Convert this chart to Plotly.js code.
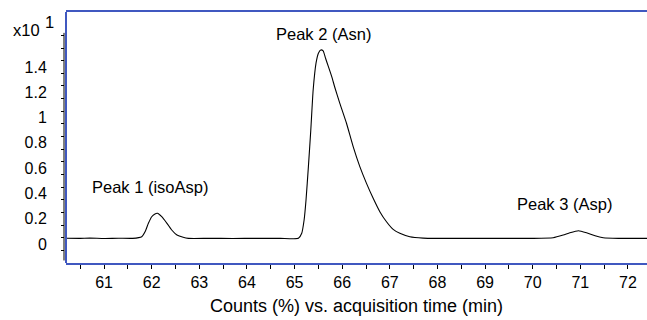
<!DOCTYPE html>
<html>
<head>
<meta charset="utf-8">
<script src="https://cdn.plot.ly/plotly-3.0.1.min.js"></script>
<style>html,body{margin:0;padding:0;background:#fff}#chart{width:647px;height:320px}</style>
</head>
<body>
<div id="chart"></div>
<script>
// Acquisition time (min)
const timeMin = [60.20, 60.50, 60.70, 61.00, 61.30, 61.60, 61.79, 61.86, 61.93, 62.00, 62.06, 62.12, 62.21, 62.32, 62.42, 62.53, 62.66, 62.77, 63.20, 63.70, 64.20, 64.70, 65.08, 65.15, 65.20, 65.24, 65.29, 65.34, 65.39, 65.45, 65.50, 65.55, 65.60, 65.65, 65.71, 65.78, 65.85, 65.95, 66.09, 66.23, 66.37, 66.51, 66.65, 66.79, 66.93, 67.07, 67.21, 67.42, 67.70, 67.98, 68.50, 69.00, 69.50, 70.00, 70.43, 70.64, 70.78, 70.96, 71.13, 71.31, 71.48, 71.80, 72.10, 72.40];
// Counts (%) x10^1
const counts = [0.046, 0.045, 0.047, 0.044, 0.046, 0.045, 0.058, 0.097, 0.164, 0.216, 0.236, 0.243, 0.216, 0.164, 0.111, 0.071, 0.053, 0.045, 0.045, 0.044, 0.045, 0.045, 0.045, 0.085, 0.190, 0.348, 0.612, 0.900, 1.218, 1.430, 1.509, 1.535, 1.527, 1.469, 1.403, 1.324, 1.232, 1.113, 0.955, 0.770, 0.612, 0.480, 0.362, 0.256, 0.176, 0.116, 0.085, 0.058, 0.047, 0.045, 0.045, 0.045, 0.045, 0.045, 0.050, 0.071, 0.089, 0.105, 0.089, 0.065, 0.050, 0.045, 0.045, 0.045];
// Tick labels
const yTickVals = [0, 0.2, 0.4, 0.6, 0.8, 1, 1.2, 1.4];
const yTickText = ["0", "0.2", "0.4", "0.6", "0.8", "1", "1.2", "1.4"];
const yMinorTicks = [-0.05, 0.05, 0.15, 0.25, 0.35, 0.45, 0.55, 0.65, 0.75, 0.85, 0.95, 1.05, 1.15, 1.25, 1.35, 1.45, 1.55, 1.65];
// Peak labels
const peakNames = ["Peak 1 (isoAsp)", "Peak 2 (Asn)", "Peak 3 (Asp)"];
const peakLabelX = [61.97, 65.60, 70.66];
const peakLabelY = [0.451, 1.661, 0.316];

const fam = "Liberation Sans, Arial, sans-serif";
const font = {family: fam, size: 16, color: "#000"};
const annFont = {family: fam, size: 16.5, color: "#000"};
const titleFont = {family: fam, size: 18, color: "#000"};
const blue = "#4058c0";
const W = 647, ml = 64;
const pw = W - ml;
const d0 = 2 / pw;

const traces = [
  {x: timeMin, y: counts, type: "scatter", mode: "lines", line: {color: "#000", width: 1.1, shape: "spline", smoothing: 0.5}, hoverinfo: "skip", xaxis: "x", yaxis: "y"},
  {x: [timeMin[0]], y: [counts[0]], type: "scatter", mode: "lines", line: {color: "rgba(0,0,0,0)"}, hoverinfo: "skip", xaxis: "x", yaxis: "y2", showlegend: false}
];

const annotations = peakNames.map((t, i) => ({
  text: t, x: peakLabelX[i], y: peakLabelY[i], xref: "x", yref: "y",
  showarrow: false, xanchor: "center", yanchor: "middle", font: annFont
}));
annotations.push({text: "x10", xref: "paper", yref: "paper", x: 0, y: 1, xanchor: "left", yanchor: "middle", xshift: 11 - ml, yshift: -18, showarrow: false, font: annFont});
annotations.push({text: "1", xref: "paper", yref: "paper", x: 0, y: 1, xanchor: "left", yanchor: "middle", xshift: 43 - ml, yshift: -10, showarrow: false, font: annFont});

const layout = {
  width: W, height: 320,
  margin: {l: ml, r: 0, t: 12, b: 57},
  paper_bgcolor: "#fff", plot_bgcolor: "#fff",
  showlegend: false,
  font: font,
  xaxis: {
    domain: [d0, 1], range: [60.2, 72.4], anchor: "y",
    showline: true, linecolor: blue, linewidth: 2, mirror: true,
    ticks: "outside", ticklen: 4, tickwidth: 1, tickcolor: "#000",
    tick0: 61, dtick: 1,
    minor: {ticks: "outside", tick0: 60.5, dtick: 0.5, ticklen: 4, tickcolor: "#000", showgrid: false},
    showgrid: false, zeroline: false, tickfont: font,
    title: {text: "Counts (%) vs. acquisition time (min)", font: titleFont, standoff: 9}
  },
  yaxis: {
    range: [-0.15, 1.835], anchor: "free", position: 0,
    showline: false, showgrid: false, zeroline: false,
    tickmode: "array", tickvals: yMinorTicks, ticktext: yMinorTicks.map(() => ""),
    ticks: "outside", ticklen: 3, tickcolor: "#000", tickwidth: 1
  },
  yaxis2: {
    range: [-0.15, 1.835], overlaying: "y", anchor: "free", position: 0, side: "left",
    showline: false, showgrid: false, zeroline: false,
    tickmode: "array", tickvals: yTickVals, ticktext: yTickText,
    ticks: "outside", ticklen: 14, tickcolor: "rgba(0,0,0,0)", tickfont: font
  },
  shapes: [
    {type: "line", xref: "paper", yref: "paper", x0: d0, x1: d0, y0: 0, y1: 1, line: {color: blue, width: 2}},
    {type: "line", xref: "paper", yref: "y", x0: 0, x1: 0, y0: -0.13, y1: 1.67, line: {color: "#000", width: 1}}
  ],
  annotations: annotations
};

Plotly.newPlot("chart", traces, layout, {staticPlot: true, displayModeBar: false});
</script>
</body>
</html>
